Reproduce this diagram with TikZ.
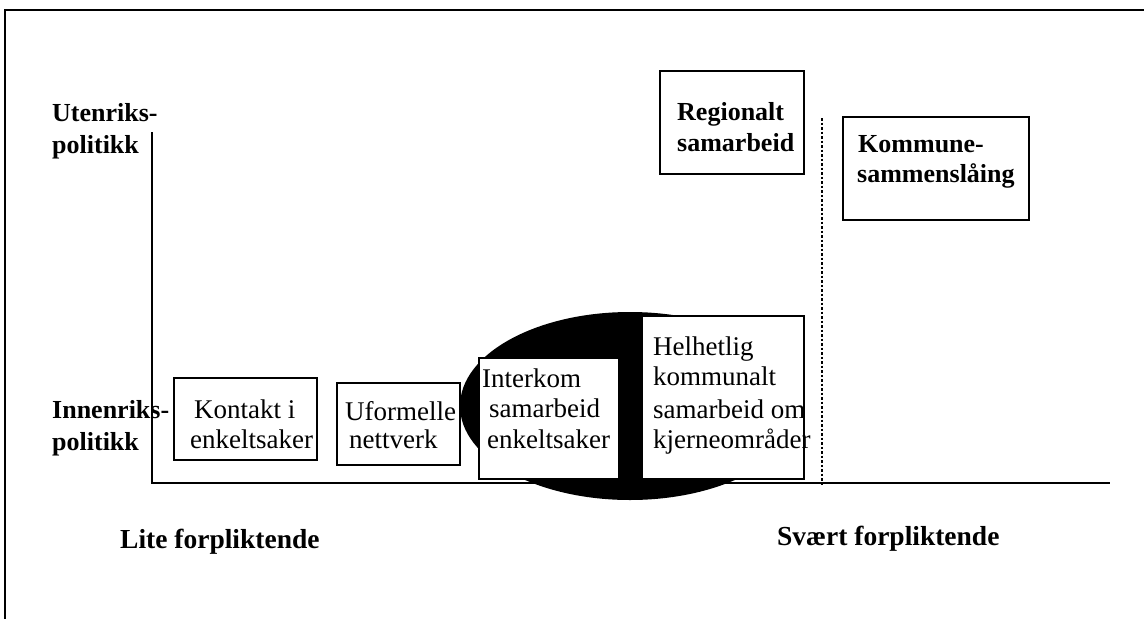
\documentclass[tikz,border=0pt]{standalone}
\usepackage{fontspec}
\setmainfont{Liberation Serif}
\begin{document}
\begin{tikzpicture}[x=1pt,y=-1pt,
  box/.style={draw, line width=2pt, fill=white, inner sep=0pt, anchor=north west},
  reg/.style={font=\fontsize{27}{30}\selectfont, inner sep=0pt, anchor=base west},
  bld/.style={font=\bfseries\fontsize{26}{30}\selectfont, inner sep=0pt, anchor=base west},
  bigbld/.style={font=\bfseries\fontsize{27.5}{30}\selectfont, inner sep=0pt, anchor=base west},
  axis/.style={line width=1.8pt},
  sep/.style={line width=2pt, dash pattern=on 2.5pt off 2pt}]
\useasboundingbox (0,0) rectangle (1144,619);
% frame
\coordinate (fr1) at (1144,10);
\coordinate (fr2) at (5,10);
\coordinate (fr3) at (5,619);
\draw[line width=2.8pt] (fr1) -- (fr2) -- (fr3);
% axes
\coordinate (ytop) at (152,132);
\coordinate (orig) at (152,483);
\coordinate (xend) at (1110,483);
\draw[axis] (ytop) -- (orig) -- (xend);
% separator
\coordinate (sepT) at (822,118);
\coordinate (sepB) at (822,485);
\draw[sep] (sepT) -- (sepB);
% black ellipse
\fill[black] (630pt,-406pt) ellipse [x radius=170pt, y radius=94pt];
% boxes
\node[box, minimum width=143pt, minimum height=82pt] (kontakt) at (173,377) {};
\node[box, minimum width=123pt, minimum height=82pt] (uformelle) at (336,382) {};
\node[box, minimum width=140pt, minimum height=121pt] (interkom) at (478,357) {};
\node[box, minimum width=162pt, minimum height=163pt] (helhetlig) at (641,315) {};
\node[box, minimum width=144pt, minimum height=103pt] (regionalt) at (659,70) {};
\node[box, minimum width=186pt, minimum height=103pt] (kommune) at (842,116) {};
% axis labels
\node[bld] (ut1) at (52,121) {Utenriks-};
\node[bld] (ut2) at (52,153) {politikk};
\node[bld] (in1) at (52,418) {Innenriks-};
\node[bld] (in2) at (52,450) {politikk};
\node[bigbld] (lite) at (120,548) {Lite forpliktende};
\node[bigbld] (svaert) at (777,545) {Svært forpliktende};
% box texts
\node[bld] (re1) at (677,120) {Regionalt};
\node[bld] (re2) at (677,151) {samarbeid};
\node[bld] (ko1) at (858,152) {Kommune-};
\node[bld] (ko2) at (857,182) {sammenslåing};
\node[reg] (kt1) at (194,418) {Kontakt i};
\node[reg] (kt2) at (190,448) {enkeltsaker};
\node[reg] (uf1) at (345,420) {Uformelle};
\node[reg] (uf2) at (349,448) {nettverk};
\node[reg] (ik1) at (482,387) {Interkom};
\node[reg] (ik2) at (489,417) {samarbeid};
\node[reg] (ik3) at (487,448) {enkeltsaker};
\node[reg] (hh1) at (653,355) {Helhetlig};
\node[reg] (hh2) at (653,385) {kommunalt};
\node[reg] (hh3) at (653,418) {samarbeid om};
\node[reg] (hh4) at (653,448) {kjerneområder};
\end{tikzpicture}
\end{document}
